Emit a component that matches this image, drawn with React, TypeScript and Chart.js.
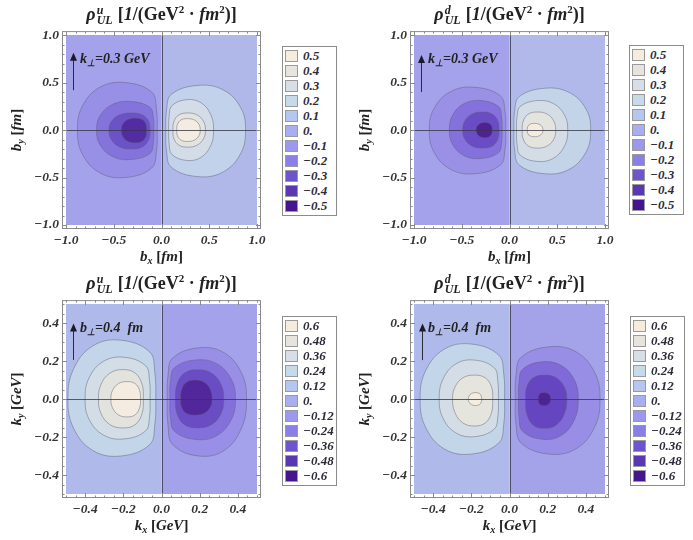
import React, { useEffect, useRef } from 'react';
import { Chart, registerables } from 'chart.js';

Chart.register(...registerables);

type P = [number, number];

// ---------- axis ticks ----------
const B_TICKS = [-1, -0.5, 0, 0.5, 1];
const B_MINOR = [-0.9, -0.8, -0.7, -0.6, -0.4, -0.3, -0.2, -0.1, 0.1, 0.2, 0.3, 0.4, 0.6, 0.7, 0.8, 0.9];
const K_TICKS = [-0.4, -0.2, 0, 0.2, 0.4];
const K_MINOR = [-0.5, -0.45, -0.35, -0.3, -0.25, -0.15, -0.1, -0.05, 0.05, 0.1, 0.15, 0.25, 0.3, 0.35, 0.45, 0.5];

// ---------- legends ----------
const LEGEND_B = ['0.5', '0.4', '0.3', '0.2', '0.1', '0.', '−0.1', '−0.2', '−0.3', '−0.4', '−0.5'];
const LEGEND_K = ['0.6', '0.48', '0.36', '0.24', '0.12', '0.', '−0.12', '−0.24', '−0.36', '−0.48', '−0.6'];
const LEGEND_COLORS = ['#f6ecdc', '#e6e4dc', '#d8dee6', '#c6dbe9', '#b5c7f0', '#a8aef0', '#9b98ee', '#8a7ee9', '#6d55cd', '#5a38b3', '#461391'];

// ---------- background half-planes ----------
const BG_B_LEFT: P[] = [[-1, -1], [0, -1], [0, 1], [-1, 1]];
const BG_B_RIGHT: P[] = [[0, -1], [1, -1], [1, 1], [0, 1]];
const BG_K_LEFT: P[] = [[-0.5, -0.5], [0, -0.5], [0, 0.5], [-0.5, 0.5]];
const BG_K_RIGHT: P[] = [[0, -0.5], [0.5, -0.5], [0.5, 0.5], [0, 0.5]];

// ---------- contours: rho_UL^u in b-space ----------
const UB_L1: P[] = [[-0.045, 0], [-0.053, -0.225], [-0.103, -0.4], [-0.379, -0.5], [-0.646, -0.45], [-0.83, -0.25], [-0.88, 0], [-0.83, 0.25], [-0.646, 0.45], [-0.379, 0.5], [-0.103, 0.4], [-0.053, 0.225]];
const UB_L2: P[] = [[-0.08, 0], [-0.086, -0.14], [-0.122, -0.248], [-0.32, -0.31], [-0.512, -0.279], [-0.644, -0.155], [-0.68, 0], [-0.644, 0.15], [-0.512, 0.27], [-0.32, 0.3], [-0.122, 0.24], [-0.086, 0.135]];
const UB_L3: P[] = [[-0.12, 0], [-0.133, -0.1], [-0.197, -0.176], [-0.313, -0.2], [-0.442, -0.176], [-0.528, -0.096], [-0.55, 0], [-0.528, 0.086], [-0.442, 0.158], [-0.313, 0.18], [-0.197, 0.158], [-0.133, 0.09]];
const UB_L4: P[] = [[-0.155, 0], [-0.163, -0.068], [-0.203, -0.119], [-0.274, -0.135], [-0.354, -0.119], [-0.407, -0.065], [-0.42, 0], [-0.407, 0.06], [-0.354, 0.11], [-0.274, 0.125], [-0.203, 0.11], [-0.163, 0.063]];
const UB_R1: P[] = [[0.045, 0], [0.053, -0.221], [0.103, -0.392], [0.379, -0.49], [0.646, -0.441], [0.83, -0.245], [0.88, 0], [0.83, 0.235], [0.646, 0.423], [0.379, 0.47], [0.103, 0.376], [0.053, 0.212]];
const UB_R2: P[] = [[0.075, 0], [0.08, -0.144], [0.108, -0.256], [0.263, -0.32], [0.413, -0.288], [0.517, -0.16], [0.545, 0], [0.517, 0.16], [0.413, 0.288], [0.263, 0.32], [0.108, 0.256], [0.08, 0.144]];
const UB_R3: P[] = [[0.12, 0], [0.13, -0.09], [0.181, -0.158], [0.273, -0.18], [0.375, -0.158], [0.443, -0.086], [0.46, 0], [0.443, 0.086], [0.375, 0.158], [0.273, 0.18], [0.181, 0.158], [0.13, 0.09]];
const UB_R4: P[] = [[0.16, 0], [0.167, -0.06], [0.204, -0.106], [0.27, -0.12], [0.344, -0.106], [0.393, -0.058], [0.405, 0], [0.393, 0.058], [0.344, 0.106], [0.27, 0.12], [0.204, 0.106], [0.167, 0.06]];

// ---------- contours: rho_UL^d in b-space ----------
const DB_L1: P[] = [[-0.04, 0], [-0.048, -0.207], [-0.096, -0.368], [-0.36, -0.46], [-0.616, -0.414], [-0.792, -0.23], [-0.84, 0], [-0.792, 0.225], [-0.616, 0.405], [-0.36, 0.45], [-0.096, 0.36], [-0.048, 0.203]];
const DB_L2: P[] = [[-0.077, 0], [-0.083, -0.135], [-0.116, -0.24], [-0.298, -0.3], [-0.475, -0.27], [-0.597, -0.15], [-0.63, 0], [-0.597, 0.155], [-0.475, 0.279], [-0.298, 0.31], [-0.116, 0.248], [-0.083, 0.14]];
const DB_L3: P[] = [[-0.11, 0], [-0.121, -0.095], [-0.178, -0.167], [-0.281, -0.19], [-0.395, -0.167], [-0.471, -0.091], [-0.49, 0], [-0.471, 0.091], [-0.395, 0.167], [-0.281, 0.19], [-0.178, 0.167], [-0.121, 0.095]];
const DB_L4: P[] = [[-0.18, 0], [-0.185, -0.04], [-0.211, -0.07], [-0.256, -0.08], [-0.307, -0.07], [-0.341, -0.038], [-0.35, 0], [-0.341, 0.038], [-0.307, 0.07], [-0.256, 0.08], [-0.211, 0.07], [-0.185, 0.04]];
const DB_R1: P[] = [[0.046, 0], [0.054, -0.207], [0.102, -0.368], [0.368, -0.46], [0.625, -0.414], [0.802, -0.23], [0.85, 0], [0.802, 0.22], [0.625, 0.396], [0.368, 0.44], [0.102, 0.352], [0.054, 0.198]];
const DB_R2: P[] = [[0.074, 0], [0.079, -0.149], [0.112, -0.264], [0.288, -0.33], [0.46, -0.297], [0.578, -0.165], [0.61, 0], [0.578, 0.155], [0.46, 0.279], [0.288, 0.31], [0.112, 0.248], [0.079, 0.14]];
const DB_R3: P[] = [[0.133, 0], [0.144, -0.095], [0.196, -0.167], [0.291, -0.19], [0.396, -0.167], [0.466, -0.091], [0.484, 0], [0.466, 0.091], [0.396, 0.167], [0.291, 0.19], [0.196, 0.167], [0.144, 0.095]];
const DB_R4: P[] = [[0.186, 0], [0.191, -0.035], [0.216, -0.062], [0.26, -0.07], [0.309, -0.062], [0.342, -0.034], [0.35, 0], [0.342, 0.034], [0.309, 0.062], [0.26, 0.07], [0.216, 0.062], [0.191, 0.035]];

// ---------- contours: rho_UL^u in k-space ----------
const UK_L1: P[] = [[-0.03, 0], [-0.035, -0.135], [-0.062, -0.24], [-0.214, -0.3], [-0.361, -0.27], [-0.462, -0.15], [-0.49, 0], [-0.462, 0.155], [-0.361, 0.279], [-0.214, 0.31], [-0.062, 0.248], [-0.035, 0.14]];
const UK_L2: P[] = [[-0.06, 0], [-0.063, -0.095], [-0.084, -0.168], [-0.196, -0.21], [-0.305, -0.189], [-0.38, -0.105], [-0.4, 0], [-0.38, 0.11], [-0.305, 0.198], [-0.196, 0.22], [-0.084, 0.176], [-0.063, 0.099]];
const UK_L3: P[] = [[-0.095, 0], [-0.102, -0.076], [-0.137, -0.134], [-0.201, -0.152], [-0.271, -0.134], [-0.318, -0.073], [-0.33, 0], [-0.318, 0.074], [-0.271, 0.136], [-0.201, 0.155], [-0.137, 0.136], [-0.102, 0.078]];
const UK_L4: P[] = [[-0.11, 0], [-0.115, -0.047], [-0.138, -0.083], [-0.18, -0.094], [-0.226, -0.083], [-0.257, -0.045], [-0.265, 0], [-0.257, 0.044], [-0.226, 0.081], [-0.18, 0.092], [-0.138, 0.081], [-0.115, 0.046]];
const UK_R1: P[] = [[0.03, 0], [0.034, -0.135], [0.059, -0.24], [0.196, -0.3], [0.329, -0.27], [0.42, -0.15], [0.445, 0], [0.42, 0.135], [0.329, 0.243], [0.196, 0.27], [0.059, 0.216], [0.034, 0.122]];
const UK_R2: P[] = [[0.044, 0], [0.047, -0.096], [0.068, -0.17], [0.181, -0.213], [0.291, -0.192], [0.366, -0.107], [0.387, 0], [0.366, 0.103], [0.291, 0.185], [0.181, 0.206], [0.068, 0.165], [0.047, 0.093]];
const UK_R3: P[] = [[0.073, 0], [0.081, -0.076], [0.119, -0.134], [0.187, -0.152], [0.263, -0.134], [0.313, -0.073], [0.326, 0], [0.313, 0.074], [0.263, 0.136], [0.187, 0.154], [0.119, 0.136], [0.081, 0.077]];
const UK_R4: P[] = [[0.1, 0], [0.105, -0.043], [0.13, -0.075], [0.174, -0.085], [0.224, -0.075], [0.257, -0.041], [0.265, 0], [0.257, 0.048], [0.224, 0.088], [0.174, 0.1], [0.13, 0.088], [0.105, 0.05]];

// ---------- contours: rho_UL^d in k-space ----------
const DK_L1: P[] = [[-0.026, 0], [-0.03, -0.131], [-0.057, -0.232], [-0.203, -0.29], [-0.344, -0.261], [-0.441, -0.145], [-0.468, 0], [-0.441, 0.145], [-0.344, 0.261], [-0.203, 0.29], [-0.057, 0.232], [-0.03, 0.131]];
const DK_L2: P[] = [[-0.058, 0], [-0.061, -0.089], [-0.08, -0.158], [-0.182, -0.198], [-0.281, -0.178], [-0.349, -0.099], [-0.368, 0], [-0.349, 0.103], [-0.281, 0.185], [-0.182, 0.205], [-0.08, 0.164], [-0.061, 0.092]];
const DK_L3: P[] = [[-0.088, 0], [-0.094, -0.071], [-0.126, -0.125], [-0.182, -0.142], [-0.245, -0.125], [-0.287, -0.068], [-0.298, 0], [-0.287, 0.06], [-0.245, 0.111], [-0.182, 0.126], [-0.126, 0.111], [-0.094, 0.063]];
const DK_L4: P[] = [[-0.146, 0], [-0.148, -0.017], [-0.159, -0.03], [-0.177, -0.034], [-0.198, -0.03], [-0.212, -0.016], [-0.216, 0], [-0.212, 0.016], [-0.198, 0.03], [-0.177, 0.034], [-0.159, 0.03], [-0.148, 0.017]];
const DK_R1: P[] = [[0.03, 0], [0.034, -0.131], [0.061, -0.232], [0.208, -0.29], [0.35, -0.261], [0.447, -0.145], [0.474, 0], [0.447, 0.138], [0.35, 0.248], [0.208, 0.275], [0.061, 0.22], [0.034, 0.124]];
const DK_R2: P[] = [[0.047, 0], [0.05, -0.095], [0.069, -0.17], [0.172, -0.212], [0.272, -0.191], [0.341, -0.106], [0.36, 0], [0.341, 0.098], [0.272, 0.176], [0.172, 0.196], [0.069, 0.157], [0.05, 0.088]];
const DK_R3: P[] = [[0.084, 0], [0.09, -0.077], [0.123, -0.136], [0.181, -0.154], [0.246, -0.136], [0.289, -0.074], [0.3, 0], [0.289, 0.06], [0.246, 0.111], [0.181, 0.126], [0.123, 0.111], [0.09, 0.063]];
const DK_R4: P[] = [[0.15, 0], [0.152, -0.018], [0.162, -0.031], [0.18, -0.035], [0.199, -0.031], [0.213, -0.017], [0.216, 0], [0.213, 0.017], [0.199, 0.031], [0.18, 0.035], [0.162, 0.031], [0.152, 0.018]];

// ---------- arrows (x, y start, y tip) ----------
const ARROW_UB = [-0.93, 0.42, 0.815];
const ARROW_DB = [-0.926, 0.4, 0.79];
const ARROW_UK = [-0.462, 0.206, 0.398];
const ARROW_DK = [-0.456, 0.205, 0.398];

// ---------- styles ----------
const SERIF = '"Liberation Serif", "Times New Roman", serif';
const LINE_COLOR = 'rgba(95,95,118,0.6)';
const FRAME_COLOR = '#8a8a8a';

type Panel = {
  left: number; top: number; span: number; range: number; ticks: number[]; minor: number[];
  bgL: P[]; bgR: P[]; cl: P[][]; cr: P[][];
  colBgL: string; colBgR: string; colL: string[]; colR: string[];
  arrow: number[];
  q: string; space: 'b' | 'k';
  legendLeft: number; legendTop: number; labels: string[];
};

const PANELS: Panel[] = [
  {
    left: 0, top: 20, span: 1.042, range: 1, ticks: B_TICKS, minor: B_MINOR,
    bgL: BG_B_LEFT, bgR: BG_B_RIGHT, cl: [UB_L1, UB_L2, UB_L3, UB_L4], cr: [UB_R1, UB_R2, UB_R3, UB_R4],
    colBgL: '#a4a2ea', colBgR: '#b0b8ea',
    colL: ['#988fe6', '#8573dc', '#6b52c7', '#532ca4'], colR: ['#c2d2ea', '#d3dce7', '#e3e3df', '#f4ece0'],
    arrow: ARROW_UB, q: 'u', space: 'b', legendLeft: 282, legendTop: 46, labels: LEGEND_B,
  },
  {
    left: 348, top: 20, span: 1.042, range: 1, ticks: B_TICKS, minor: B_MINOR,
    bgL: BG_B_LEFT, bgR: BG_B_RIGHT, cl: [DB_L1, DB_L2, DB_L3, DB_L4], cr: [DB_R1, DB_R2, DB_R3, DB_R4],
    colBgL: '#a4a2ea', colBgR: '#b0b9ea',
    colL: ['#9a91e6', '#8571db', '#6a4dc5', '#4e2295'], colR: ['#c3d4e9', '#d4dde6', '#e4e4de', '#f5ecdf'],
    arrow: ARROW_DB, q: 'd', space: 'b', legendLeft: 629, legendTop: 45, labels: LEGEND_B,
  },
  {
    left: 0, top: 289, span: 0.521, range: 0.5, ticks: K_TICKS, minor: K_MINOR,
    bgL: BG_K_LEFT, bgR: BG_K_RIGHT, cl: [UK_L1, UK_L2, UK_L3, UK_L4], cr: [UK_R1, UK_R2, UK_R3, UK_R4],
    colBgL: '#afb9ea', colBgR: '#a3a2ea',
    colL: ['#c2d5e9', '#d3dde6', '#e3e3de', '#f4ece0'], colR: ['#998fe6', '#8470da', '#6a4cc4', '#52279c'],
    arrow: ARROW_UK, q: 'u', space: 'k', legendLeft: 282, legendTop: 316, labels: LEGEND_K,
  },
  {
    left: 348, top: 289, span: 0.521, range: 0.5, ticks: K_TICKS, minor: K_MINOR,
    bgL: BG_K_LEFT, bgR: BG_K_RIGHT, cl: [DK_L1, DK_L2, DK_L3, DK_L4], cr: [DK_R1, DK_R2, DK_R3, DK_R4],
    colBgL: '#afb9ea', colBgR: '#a4a3ea',
    colL: ['#c3d6e9', '#d4dde6', '#e6e5dd', '#f4ece0'], colR: ['#988ee6', '#7f6ad8', '#6646c0', '#4e2396'],
    arrow: ARROW_DK, q: 'd', space: 'k', legendLeft: 630, legendTop: 316, labels: LEGEND_K,
  },
];

const CW = 272;
const CH = 236;

const toXY = (pts: P[]) => pts.map(([x, y]) => ({ x, y }));
const fmt = (v: number) => (v < 0 ? '−' : '') + Math.abs(v).toFixed(1);

// closes every dataset's line into a loop (like a radar outline) and fills it
const shapeFill = {
  id: 'shapeFill',
  afterDatasetUpdate(chart: any, args: any) {
    const line = args.meta.dataset;
    if (!line) return;
    line._loop = true;
    line._fullLoop = true;
    delete line._segments;
    delete line._path;
    line._pointsUpdated = false;
  },
  beforeDatasetDraw(chart: any, args: any) {
    const ds = chart.data.datasets[args.index];
    if (!ds.shapeColor) return;
    const meta = args.meta;
    const line = meta.dataset;
    if (line && line.updateControlPoints) line.updateControlPoints(chart.chartArea, 'x');
    const pts = meta.data;
    if (!pts.length) return;
    const ctx = chart.ctx;
    const seg = (q: any, p: any) => {
      if (ds.tension > 0 && q.cp2x !== undefined && p.cp1x !== undefined) {
        ctx.bezierCurveTo(q.cp2x, q.cp2y, p.cp1x, p.cp1y, p.x, p.y);
      } else ctx.lineTo(p.x, p.y);
    };
    ctx.save();
    ctx.beginPath();
    ctx.moveTo(pts[0].x, pts[0].y);
    for (let i = 1; i < pts.length; i++) seg(pts[i - 1], pts[i]);
    seg(pts[pts.length - 1], pts[0]);
    ctx.closePath();
    ctx.fillStyle = ds.shapeColor;
    ctx.fill();
    ctx.restore();
  },
};

function makeOverlay(panel: Panel) {
  return {
    id: 'overlay',
    afterDatasetsDraw(chart: any) {
      const ctx = chart.ctx;
      const xs = chart.scales.x;
      const ys = chart.scales.y;
      const a = chart.chartArea;
      const r = panel.range;
      ctx.save();
      ctx.strokeStyle = 'rgba(55,55,70,0.8)';
      ctx.lineWidth = 1;
      ctx.beginPath();
      const y0 = Math.round(ys.getPixelForValue(0)) + 0.5;
      const x0 = Math.round(xs.getPixelForValue(0)) + 0.5;
      ctx.moveTo(xs.getPixelForValue(-r), y0);
      ctx.lineTo(xs.getPixelForValue(r), y0);
      ctx.moveTo(x0, ys.getPixelForValue(-r));
      ctx.lineTo(x0, ys.getPixelForValue(r));
      ctx.stroke();
      ctx.strokeStyle = FRAME_COLOR;
      ctx.lineWidth = 1;
      ctx.strokeRect(a.left + 0.5, a.top + 0.5, a.right - a.left - 1, a.bottom - a.top - 1);
      const drawTicks = (vals: number[], len: number) => {
        ctx.beginPath();
        vals.forEach((v) => {
          const px = Math.round(xs.getPixelForValue(v)) + 0.5;
          const py = Math.round(ys.getPixelForValue(v)) + 0.5;
          ctx.moveTo(px, a.bottom); ctx.lineTo(px, a.bottom - len);
          ctx.moveTo(px, a.top); ctx.lineTo(px, a.top + len);
          ctx.moveTo(a.left, py); ctx.lineTo(a.left + len, py);
          ctx.moveTo(a.right, py); ctx.lineTo(a.right - len, py);
        });
        ctx.stroke();
      };
      drawTicks(panel.ticks, 5);
      drawTicks(panel.minor, 2.5);
      const [ax, ay0, ay1] = panel.arrow;
      const px = Math.round(xs.getPixelForValue(ax)) + 0.5;
      const p0 = ys.getPixelForValue(ay0);
      const p1 = ys.getPixelForValue(ay1);
      ctx.strokeStyle = '#2a2a3a';
      ctx.fillStyle = '#1a1a2a';
      ctx.lineWidth = 1;
      ctx.beginPath();
      ctx.moveTo(px, p0);
      ctx.lineTo(px, p1 + 6);
      ctx.stroke();
      ctx.beginPath();
      ctx.moveTo(px, p1);
      ctx.lineTo(px - 3.5, p1 + 8);
      ctx.lineTo(px + 3.5, p1 + 8);
      ctx.closePath();
      ctx.fill();
      ctx.restore();
    },
  };
}

function ContourChart({ panel }: { panel: Panel }) {
  const ref = useRef<HTMLCanvasElement>(null);
  useEffect(() => {
    if (!ref.current) return;
    const datasets: any[] = [];
    const addShape = (pts: P[], color: string, order: number, tension: number, border: number) => {
      datasets.push({
        data: toXY(pts),
        shapeColor: color,
        borderColor: LINE_COLOR,
        borderWidth: border,
        backgroundColor: color,
        fill: false,
        tension,
        pointRadius: 0,
        pointHoverRadius: 0,
        order,
      });
    };
    addShape(panel.bgL, panel.colBgL, 10, 0, 0);
    addShape(panel.bgR, panel.colBgR, 10, 0, 0);
    panel.cl.forEach((c, i) => addShape(c, panel.colL[i], 4 - i, 0.4, 0.8));
    panel.cr.forEach((c, i) => addShape(c, panel.colR[i], 4 - i, 0.4, 0.8));

    const tickFont = { family: SERIF, size: 13.5, weight: 'bold' as const, style: 'italic' as const };
    const chart = new Chart(ref.current, {
      type: 'line',
      data: { datasets },
      options: {
        animation: false,
        responsive: false,
        maintainAspectRatio: false,
        events: [],
        layout: { padding: { top: 10, right: 11, bottom: 0, left: 0 } },
        plugins: { legend: { display: false }, tooltip: { enabled: false }, title: { display: false } },
        scales: {
          x: {
            type: 'linear',
            min: -panel.span,
            max: panel.span,
            grid: { display: false, drawTicks: false },
            border: { display: false },
            ticks: { padding: 3, color: '#333', font: tickFont, autoSkip: false, maxRotation: 0, callback: (v: any) => fmt(Number(v)) },
            afterBuildTicks: (s: any) => { s.ticks = panel.ticks.map((v) => ({ value: v })); },
            afterFit: (s: any) => { s.height = 27; },
          },
          y: {
            type: 'linear',
            min: -panel.span,
            max: panel.span,
            grid: { display: false, drawTicks: false },
            border: { display: false },
            ticks: { padding: 3, color: '#333', font: tickFont, autoSkip: false, callback: (v: any) => fmt(Number(v)) },
            afterBuildTicks: (s: any) => { s.ticks = panel.ticks.map((v) => ({ value: v })); },
            afterFit: (s: any) => { s.width = 62; },
          },
        },
      } as any,
      plugins: [shapeFill, makeOverlay(panel)],
    });
    return () => chart.destroy();
  }, [panel]);
  return (
    <canvas
      ref={ref}
      width={CW}
      height={CH}
      style={{ position: 'absolute', left: panel.left, top: panel.top, width: CW, height: CH }}
    />
  );
}

function Title({ panel }: { panel: Panel }) {
  const sup = { fontSize: 11, verticalAlign: '7px', lineHeight: 0 } as const;
  return (
    <div style={{ position: 'absolute', left: panel.left + 42, top: panel.top - 18, width: 239, textAlign: 'center', font: `bold 18px ${SERIF}`, lineHeight: '24px', color: '#222', whiteSpace: 'nowrap' }}>
      <i>ρ</i>
      <span style={{ display: 'inline-block', verticalAlign: '-4px', lineHeight: '10px', fontSize: 12, textAlign: 'left', marginLeft: 1, marginRight: 5 }}>
        <i>{panel.q}</i><br /><i>UL</i>
      </span>
      [<i>1</i>/(GeV<span style={sup}>2</span> · <i>fm</i><span style={sup}>2</span>)]
    </div>
  );
}

function AxisTitles({ panel }: { panel: Panel }) {
  const v = panel.space;
  const unit = v === 'b' ? 'fm' : 'GeV';
  const font = `bold 15px ${SERIF}`;
  const sub = { fontSize: 10, verticalAlign: '-3px', lineHeight: 0 } as const;
  return (
    <>
      <div style={{ position: 'absolute', left: panel.left + 62, top: panel.top + 226, width: 199, textAlign: 'center', font, lineHeight: '20px', color: '#222', whiteSpace: 'nowrap' }}>
        <i>{v}</i><sub style={sub}><i>x</i></sub> [<i>{unit}</i>]
      </div>
      <div style={{ position: 'absolute', left: panel.left + 16 - 60, top: panel.top + 110 - 10, width: 120, height: 20, textAlign: 'center', font, lineHeight: '20px', color: '#222', whiteSpace: 'nowrap', transform: 'rotate(-90deg)' }}>
        <i>{v}</i><sub style={sub}><i>y</i></sub> [<i>{unit}</i>]
      </div>
    </>
  );
}

function Annotation({ panel }: { panel: Panel }) {
  const sub = { fontSize: 9, verticalAlign: '-3px', lineHeight: 0 } as const;
  return (
    <div style={{ position: 'absolute', left: panel.left + 80, top: panel.top + 31, font: `bold italic 14px ${SERIF}`, lineHeight: '16px', color: '#222', whiteSpace: 'pre' }}>
      {panel.space === 'b' ? (
        <>k<sub style={sub}>⊥</sub>=0.3 GeV</>
      ) : (
        <>b<sub style={sub}>⊥</sub>=0.4  fm</>
      )}
    </div>
  );
}

function Legend({ panel }: { panel: Panel }) {
  return (
    <div style={{ position: 'absolute', left: panel.legendLeft, top: panel.legendTop, width: 55, height: 170, border: '1px solid #8c8c8c', background: '#fff', boxSizing: 'border-box' }}>
      {panel.labels.map((t, i) => (
        <div key={i} style={{ position: 'absolute', left: 2, top: 2.6 + i * 15.07, height: 12, display: 'flex', alignItems: 'center', whiteSpace: 'nowrap' }}>
          <span style={{ display: 'inline-block', width: 13, height: 12, border: '1px solid #9a9a9a', background: LEGEND_COLORS[i], boxSizing: 'border-box' }} />
          <span style={{ marginLeft: 5, font: `bold italic 13px ${SERIF}`, color: '#2b2b3b', lineHeight: '12px' }}>{t}</span>
        </div>
      ))}
    </div>
  );
}

export default function App() {
  return (
    <div style={{ position: 'absolute', left: 0, top: 0, width: 693, height: 540, background: '#fff', overflow: 'hidden' }}>
      {PANELS.map((p, i) => (
        <React.Fragment key={i}>
          <ContourChart panel={p} />
          <Title panel={p} />
          <AxisTitles panel={p} />
          <Annotation panel={p} />
          <Legend panel={p} />
        </React.Fragment>
      ))}
    </div>
  );
}
